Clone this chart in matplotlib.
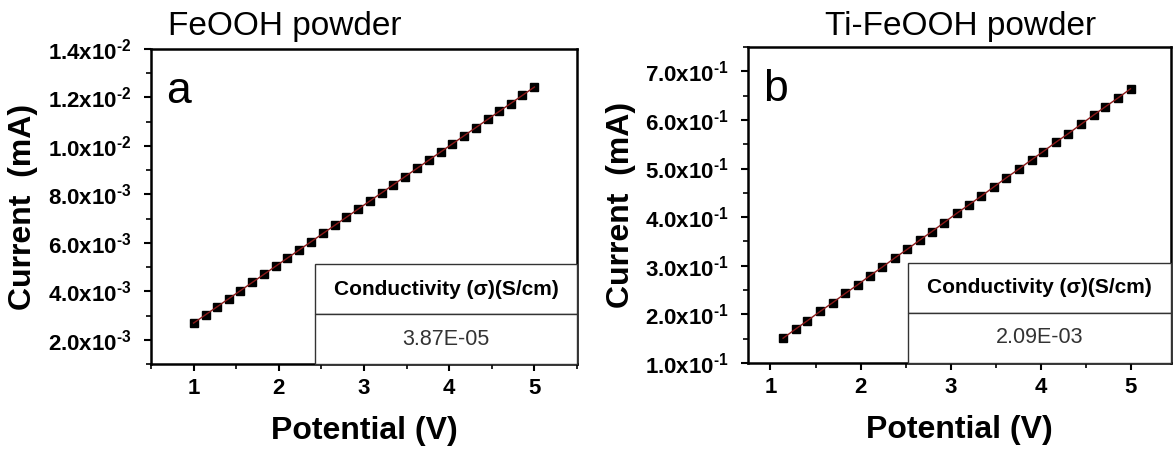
import matplotlib
matplotlib.use("Agg")

import matplotlib.pyplot as plt
from matplotlib.ticker import FuncFormatter, MultipleLocator

plt.rcParams["font.family"] = ["Liberation Sans", "DejaVu Sans"]
plt.rcParams["mathtext.fontset"] = "custom"
plt.rcParams["mathtext.rm"] = "Liberation Sans:bold"
plt.rcParams["mathtext.default"] = "regular"

# panel a: FeOOH powder
potential_a = [1.00, 1.14, 1.28, 1.41, 1.55, 1.69, 1.83, 1.97, 2.10, 2.24,
               2.38, 2.52, 2.66, 2.79, 2.93, 3.07, 3.21, 3.34, 3.48, 3.62,
               3.76, 3.90, 4.03, 4.17, 4.31, 4.45, 4.59, 4.72, 4.86, 5.00]
current_a = [0.002690, 0.003031, 0.003372, 0.003688, 0.004029, 0.004370,
             0.004711, 0.005052, 0.005369, 0.005709, 0.006050, 0.006391,
             0.006732, 0.007049, 0.007390, 0.007730, 0.008071, 0.008388,
             0.008729, 0.009070, 0.009411, 0.009752, 0.010068, 0.010409,
             0.010750, 0.011091, 0.011432, 0.011748, 0.012089, 0.012430]

# panel b: Ti-FeOOH powder
potential_b = [1.14, 1.28, 1.41, 1.55, 1.69, 1.83, 1.97, 2.10, 2.24, 2.38,
               2.52, 2.66, 2.79, 2.93, 3.07, 3.21, 3.34, 3.48, 3.62, 3.76,
               3.90, 4.03, 4.17, 4.31, 4.45, 4.59, 4.72, 4.86, 5.00]
current_b = [0.151, 0.170, 0.187, 0.206, 0.224, 0.243, 0.261, 0.279, 0.297,
             0.316, 0.334, 0.353, 0.370, 0.389, 0.408, 0.426, 0.443, 0.462,
             0.481, 0.499, 0.518, 0.535, 0.554, 0.572, 0.591, 0.610, 0.627,
             0.645, 0.664]

titles = ["FeOOH powder", "Ti-FeOOH powder"]
letters = ["a", "b"]
table_header = "Conductivity (\u03c3)(S/cm)"
conductivity = ["3.87E-05", "2.09E-03"]


def sci_fmt(v, pos):
    if v <= 0:
        return ""
    exp = 0
    m = v
    while m < 1 - 1e-9:
        m *= 10
        exp -= 1
    return f"{m:.1f}x10$^{{\\text{{-}}{-exp}}}$"


fig = plt.figure(figsize=(11.73, 4.55), dpi=100)

W, H = 1173, 455
ax_a = fig.add_axes([151 / W, 1 - 364 / H, 426 / W, 315 / H])
ax_b = fig.add_axes([748 / W, 1 - 363 / H, 423 / W, 316 / H])

setups = [
    (ax_a, potential_a, current_a, (0.5, 5.5), (0.001, 0.014), 0.002, 0.385, 168),
    (ax_b, potential_b, current_b, (0.75, 5.45), (0.1, 0.75), 0.1, 0.378, 825),
]

for i, (ax, xs, ys, xlim, ylim, ystep, tab_x, title_x) in enumerate(setups):
    ax.plot(xs, ys, "s", color="black", markersize=6, zorder=3)
    ax.plot(xs, ys, "-", color="#8b1a1a", linewidth=1.0, zorder=4)
    ax.set_xlim(*xlim)
    ax.set_ylim(*ylim)
    ax.xaxis.set_major_locator(MultipleLocator(1))
    ax.xaxis.set_minor_locator(MultipleLocator(0.5))
    ax.yaxis.set_major_locator(MultipleLocator(ystep))
    ax.yaxis.set_minor_locator(MultipleLocator(ystep / 2))
    ax.yaxis.set_major_formatter(FuncFormatter(sci_fmt))
    ax.tick_params(which="major", direction="out", length=5, width=1.5,
                   labelsize=16)
    ax.tick_params(axis="y", which="major", pad=9)
    ax.tick_params(axis="x", which="major", pad=5)
    ax.tick_params(which="minor", direction="out", length=3.5, width=1.2)
    for lab in ax.get_xticklabels() + ax.get_yticklabels():
        lab.set_fontweight("bold")
    for sp in ax.spines.values():
        sp.set_linewidth(1.8)

    ax.set_xlabel("Potential (V)", fontsize=23, fontweight="bold")
    ax.xaxis.set_label_coords(0.5, -0.165)
    ax.set_ylabel("Current  (mA)", fontsize=23, fontweight="bold")
    ax.yaxis.set_label_coords(-0.265, 0.5)

    ax.text(0.035, 0.83, letters[i], transform=ax.transAxes, fontsize=32,
            va="baseline", ha="left")
    fig.text(title_x / W, 1 - 26 / H, titles[i], fontsize=24,
             ha="left", va="center")

    tbl = ax.table(cellText=[[conductivity[i]]], colLabels=[table_header],
                   cellLoc="center", bbox=[tab_x, 0.0, 1 - tab_x, 0.317],
                   zorder=5)
    tbl.auto_set_font_size(False)
    for (r, c), cell in tbl.get_celld().items():
        cell.set_edgecolor("#333333")
        cell.set_linewidth(1.0)
        cell.set_facecolor("white")
        if r == 0:
            cell.get_text().set_fontweight("bold")
            cell.get_text().set_fontsize(15)
        else:
            cell.get_text().set_fontsize(15.5)
            cell.get_text().set_color("#333333")

fig.savefig("out.png", dpi=100)
